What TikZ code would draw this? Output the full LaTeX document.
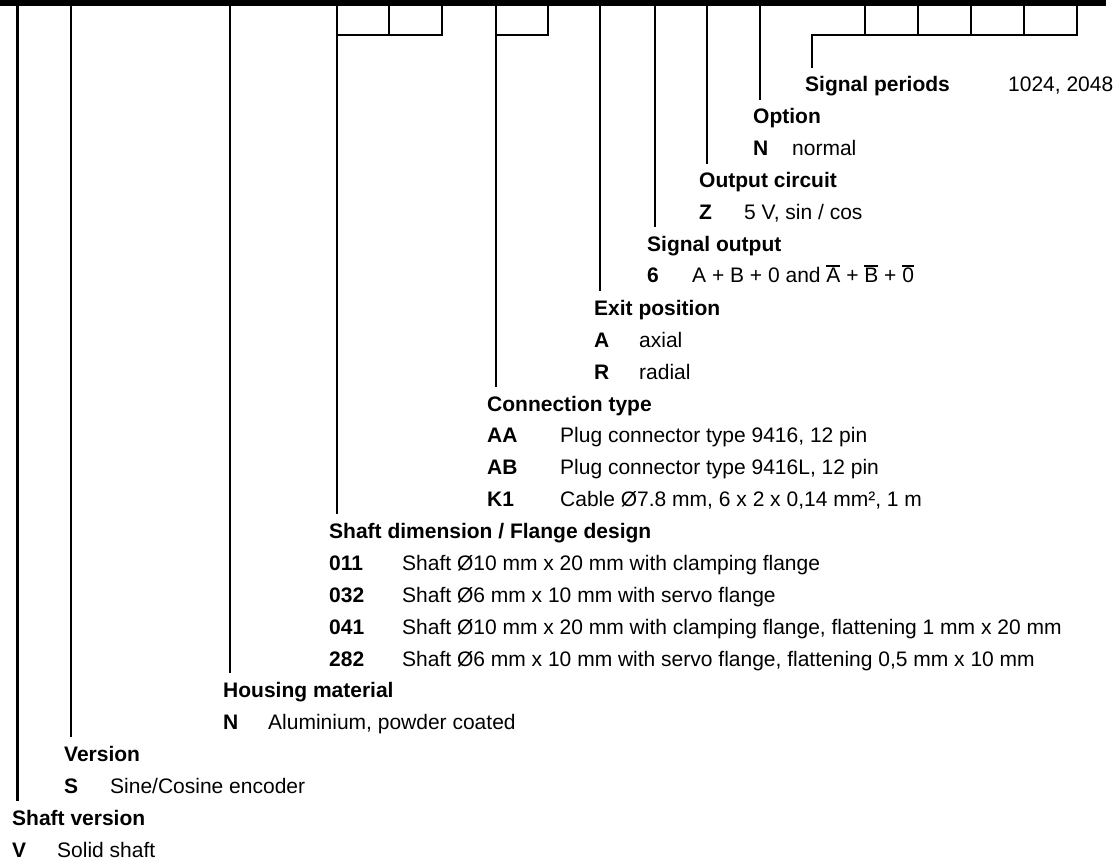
\documentclass[tikz,border=0pt]{standalone}
\usepackage{fontspec}
\setmainfont{Liberation Sans}
\newcommand{\labelsize}{\fontsize{21}{25}\selectfont}
\newcommand{\olbar}[1]{\leavevmode\vbox{\hrule height 1.3pt\kern 1.8pt\hbox{#1}}}

\begin{document}
\begin{tikzpicture}[x=1pt, y=-1pt,
    lead/.style={line width=2.5pt},
    head/.style={font=\labelsize\bfseries, anchor=base west, inner xsep=0pt, inner ysep=9pt},
    code/.style={font=\labelsize\bfseries, anchor=base west, inner sep=0pt},
    entry/.style={font=\labelsize, anchor=base west, inner sep=0pt}]
    \useasboundingbox (0,0) rectangle (1114,861);

    % Draw top bar
    \fill (0,0) rectangle (1106,6);

    % Top ends of the leads
    \coordinate (tShaft) at (17.5,5);
    \coordinate (tVer) at (71,5);
    \coordinate (tHous) at (230,5);
    \coordinate (tDim) at (337,5);
    \coordinate (tCon) at (496,5);
    \coordinate (tExit) at (600,5);
    \coordinate (tSig) at (655,5);
    \coordinate (tOut) at (707,5);
    \coordinate (tOpt) at (760,5);
    \coordinate (tPer) at (812,35);
    \coordinate (bDim) at (337,35);
    \coordinate (bCon) at (496,35);

    % Labels
    \node[head] (per) at (805,92) {Signal periods};
    \node[entry] (perval) at (1008,92) {1024, 2048};

    \node[head] (opt) at (753,124) {Option};
    \node[code] (optN) at (753,156) {N};
    \node[entry] (optNt) at (792,156) {normal};

    \node[head] (out) at (699,188) {Output circuit};
    \node[code] (outZ) at (699,219.5) {Z};
    \node[entry] (outZt) at (744,219.5) {5 V, sin / cos};

    \node[head] (sig) at (647,251.5) {Signal output};
    \node[code] (sig6) at (647,283) {6};
    \node[entry] (sig6t) at (692,283) {A + B + 0 and \olbar{A} + \olbar{B} + \olbar{0}};

    \node[head] (exit) at (594,315) {Exit position};
    \node[code] (exitA) at (594,347) {A};
    \node[entry] (exitAt) at (639,347) {axial};
    \node[code] (exitR) at (594,379) {R};
    \node[entry] (exitRt) at (639,379) {radial};

    \node[head] (con) at (487,411) {Connection type};
    \node[code] (conAA) at (487,442.5) {AA};
    \node[entry] (conAAt) at (560,442.5) {Plug connector type 9416, 12 pin};
    \node[code] (conAB) at (487,474.5) {AB};
    \node[entry] (conABt) at (560,474.5) {Plug connector type 9416L, 12 pin};
    \node[code] (conK1) at (487,506.5) {K1};
    \node[entry] (conK1t) at (560,506.5) {Cable Ø7.8 mm, 6 x 2 x 0,14 mm², 1 m};

    \node[head] (dim) at (329,538) {Shaft dimension / Flange design};
    \node[code] (dim011) at (329,570) {011};
    \node[entry] (dim011t) at (402,570) {Shaft Ø10 mm x 20 mm with clamping flange};
    \node[code] (dim032) at (329,602) {032};
    \node[entry] (dim032t) at (402,602) {Shaft Ø6 mm x 10 mm with servo flange};
    \node[code] (dim041) at (329,634) {041};
    \node[entry] (dim041t) at (402,634) {Shaft Ø10 mm x 20 mm with clamping flange, flattening 1 mm x 20 mm};
    \node[code] (dim282) at (329,666) {282};
    \node[entry] (dim282t) at (402,666) {Shaft Ø6 mm x 10 mm with servo flange, flattening 0,5 mm x 10 mm};

    \node[head] (hous) at (223,697.5) {Housing material};
    \node[code] (housN) at (223,729.5) {N};
    \node[entry] (housNt) at (268,729.5) {Aluminium, powder coated};

    \node[head] (ver) at (64,761.5) {Version};
    \node[code] (verS) at (64,793) {S};
    \node[entry] (verSt) at (110,793) {Sine/Cosine encoder};

    \node[head] (shaft) at (12,825) {Shaft version};
    \node[code] (shaftV) at (12,857) {V};
    \node[entry] (shaftVt) at (57,857) {Solid shaft};

    % Draw leads
    \draw[lead] (tShaft) -- (tShaft |- shaft.north);
    \draw[lead] (tVer) -- (tVer |- ver.north);
    \draw[lead] (tHous) -- (tHous |- hous.north);
    \draw[lead] (tDim) -- (tDim |- dim.north);
    \draw[lead] (tCon) -- (tCon |- con.north);
    \draw[lead] (tExit) -- (tExit |- exit.north);
    \draw[lead] (tSig) -- (tSig |- sig.north);
    \draw[lead] (tOut) -- (tOut |- out.north);
    \draw[lead] (tOpt) -- (tOpt |- opt.north);

    % Draw digit boxes
    \draw[lead] (442,5) |- (bDim);
    \draw[lead] (389,5) -- (389,35);
    \draw[lead] (548,5) |- (bCon);
    \draw[lead] (1077,5) |- (tPer) -- (tPer |- per.north);
    \draw[lead] (865,5) -- (865,35) (918,5) -- (918,35) (971,5) -- (971,35) (1024,5) -- (1024,35);
\end{tikzpicture}
\end{document}
